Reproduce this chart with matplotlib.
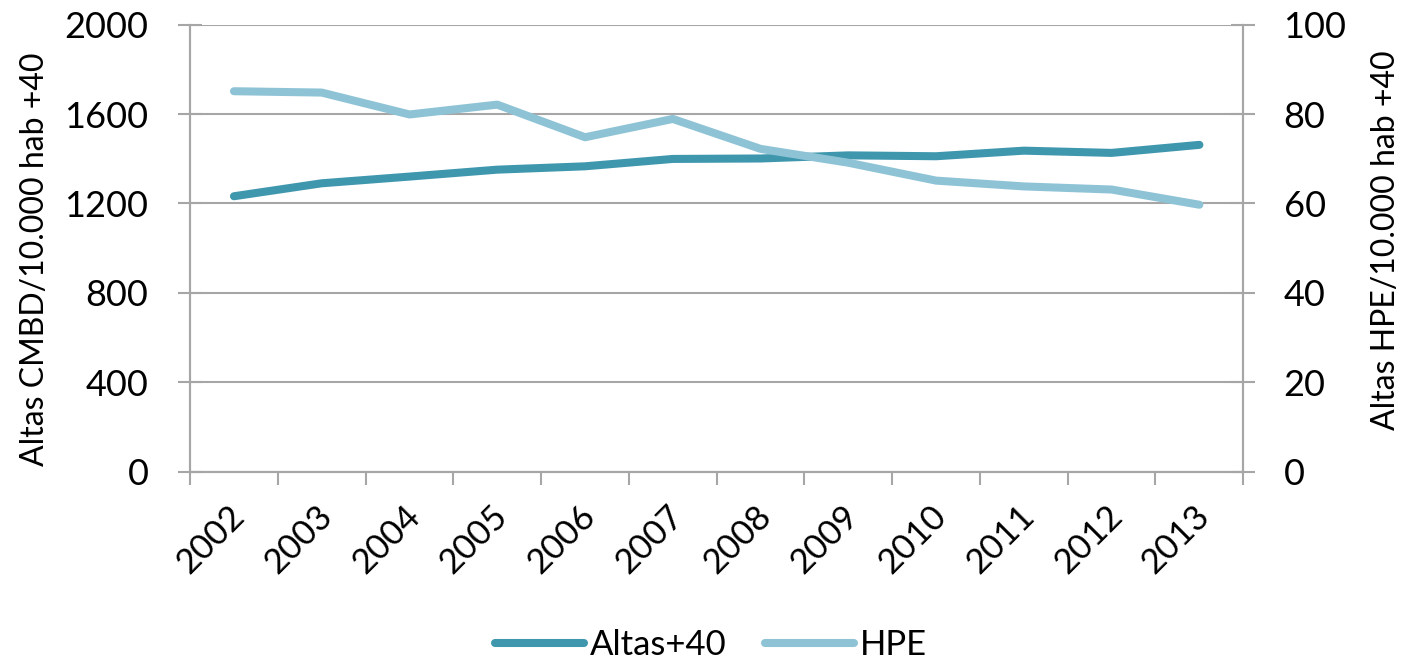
from matplotlib import pyplot as plt
from matplotlib.transforms import ScaledTranslation
import numpy as np

years = ["2002", "2003", "2004", "2005", "2006", "2007",
         "2008", "2009", "2010", "2011", "2012", "2013"]
altas40 = [1232, 1290, 1320, 1351, 1366, 1399, 1401, 1415, 1411, 1436, 1426, 1462]
hpe = [85.1, 84.8, 79.9, 82.1, 74.8, 78.9, 72.2, 69.1, 65.1, 63.8, 63.1, 59.7]

left_ticks = [0, 400, 800, 1200, 1600, 2000]
right_ticks = [0, 20, 40, 60, 80, 100]

dark = "#3f97ae"
light = "#8ec3d6"
grid_col = "#a6a6a6"


def main():
    plt.rcParams["font.family"] = ["Lato", "DejaVu Sans"]
    fig = plt.figure(figsize=(14.08, 6.66), dpi=100)
    ax = fig.add_axes([0.135, 0.292, 0.748, 0.671])
    ax2 = ax.twinx()

    x = np.arange(len(years))
    l1, = ax.plot(x, altas40, color=dark, lw=5.8, solid_capstyle="round",
                  solid_joinstyle="round", label="Altas+40", zorder=3)
    l2, = ax2.plot(x, hpe, color=light, lw=5.8, solid_capstyle="round",
                   solid_joinstyle="round", label="HPE", zorder=3)

    ax.set_xlim(-0.5, len(years) - 0.5)
    ax.set_ylim(0, 2000)
    ax2.set_ylim(0, 100)
    ax.set_yticks(left_ticks)
    ax2.set_yticks(right_ticks)

    # category boundaries carry the tick marks, centres carry the labels
    ax.set_xticks(np.arange(-0.5, len(years), 1.0))
    ax.set_xticklabels([])
    ax.set_xticks(x, minor=True)
    ax.set_xticklabels(years, minor=True, rotation=45, ha="right",
                       va="top", rotation_mode="anchor", fontsize=25)
    ax.tick_params(axis="x", which="minor", length=0, pad=18)
    ax.tick_params(axis="x", which="major", length=9, width=1.5, color=grid_col)
    shift = ScaledTranslation(-6 / 100, -3 / 100, fig.dpi_scale_trans)
    for lab in ax.get_xticklabels(minor=True):
        lab.set_transform(lab.get_transform() + shift)

    ax.tick_params(axis="y", labelsize=26, direction="inout", length=17,
                   width=1.5, color=grid_col, pad=21.5)
    ax2.tick_params(axis="y", labelsize=26, direction="inout", length=17,
                    width=1.5, color=grid_col, pad=20.5)

    ax.grid(True, axis="y", color=grid_col, lw=1.5)
    ax.set_axisbelow(True)

    for a in (ax, ax2):
        a.spines["top"].set_visible(False)
        for side in ("left", "right", "bottom"):
            a.spines[side].set_color(grid_col)
            a.spines[side].set_linewidth(1.5)

    ax.set_ylabel("Altas CMBD/10.000 hab +40", fontsize=23)
    ax.yaxis.set_label_coords(-0.133, 0.476)
    ax2.set_ylabel("Altas HPE/10.000 hab +40", fontsize=23, rotation=90)
    ax2.yaxis.set_label_coords(1.121, 0.518)

    fig.legend(handles=[l1, l2], loc="center", bbox_to_anchor=(0.505, 0.032),
               ncol=2, frameon=False, fontsize=25, handlelength=2.56,
               handletextpad=0.17, columnspacing=1.1)

    fig.savefig("out.png", dpi=100)


if __name__ == '__main__':
    main()
